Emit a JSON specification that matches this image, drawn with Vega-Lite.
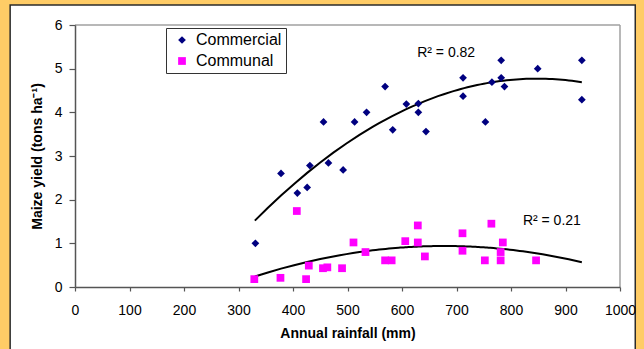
{
  "$schema": "https://vega.github.io/schema/vega-lite/v6.json",
  "width": 545,
  "height": 262,
  "autosize": {"type": "none"},
  "padding": {"left": 75, "top": 25, "right": 24, "bottom": 62},
  "background": "#FFCC66",
  "config": {
    "font": "Liberation Sans",
    "view": {"stroke": null},
    "axis": {
      "grid": false,
      "domainColor": "#555555",
      "domainWidth": 1.5,
      "tickColor": "#555555",
      "tickWidth": 1.2,
      "labelColor": "#000000",
      "labelFont": "Liberation Sans",
      "labelFontSize": 14,
      "titleFont": "Liberation Sans",
      "titleFontSize": 14,
      "titleFontWeight": "bold",
      "titleColor": "#000000"
    }
  },
  "datasets": {
    "points": [
      {"series": "Commercial", "rain": 331, "yield": 1.0},
      {"series": "Commercial", "rain": 378, "yield": 2.6},
      {"series": "Commercial", "rain": 408, "yield": 2.15},
      {"series": "Commercial", "rain": 426, "yield": 2.28},
      {"series": "Commercial", "rain": 431, "yield": 2.78},
      {"series": "Commercial", "rain": 456, "yield": 3.78},
      {"series": "Commercial", "rain": 465, "yield": 2.84},
      {"series": "Commercial", "rain": 492, "yield": 2.68},
      {"series": "Commercial", "rain": 513, "yield": 3.78},
      {"series": "Commercial", "rain": 535, "yield": 4.0},
      {"series": "Commercial", "rain": 569, "yield": 4.59},
      {"series": "Commercial", "rain": 583, "yield": 3.6},
      {"series": "Commercial", "rain": 608, "yield": 4.19},
      {"series": "Commercial", "rain": 630, "yield": 4.2},
      {"series": "Commercial", "rain": 630, "yield": 4.0},
      {"series": "Commercial", "rain": 644, "yield": 3.56},
      {"series": "Commercial", "rain": 712, "yield": 4.79},
      {"series": "Commercial", "rain": 712, "yield": 4.37},
      {"series": "Commercial", "rain": 753, "yield": 3.78},
      {"series": "Commercial", "rain": 765, "yield": 4.69},
      {"series": "Commercial", "rain": 782, "yield": 5.19},
      {"series": "Commercial", "rain": 782, "yield": 4.79},
      {"series": "Commercial", "rain": 788, "yield": 4.59},
      {"series": "Commercial", "rain": 849, "yield": 5.0},
      {"series": "Commercial", "rain": 930, "yield": 5.19},
      {"series": "Commercial", "rain": 930, "yield": 4.29},
      {"series": "Communal", "rain": 329, "yield": 0.18},
      {"series": "Communal", "rain": 377, "yield": 0.21},
      {"series": "Communal", "rain": 407, "yield": 1.74},
      {"series": "Communal", "rain": 424, "yield": 0.18},
      {"series": "Communal", "rain": 429, "yield": 0.49},
      {"series": "Communal", "rain": 455, "yield": 0.43},
      {"series": "Communal", "rain": 463, "yield": 0.45},
      {"series": "Communal", "rain": 490, "yield": 0.43},
      {"series": "Communal", "rain": 511, "yield": 1.02},
      {"series": "Communal", "rain": 533, "yield": 0.8},
      {"series": "Communal", "rain": 569, "yield": 0.61},
      {"series": "Communal", "rain": 581, "yield": 0.61},
      {"series": "Communal", "rain": 606, "yield": 1.05},
      {"series": "Communal", "rain": 629, "yield": 1.41},
      {"series": "Communal", "rain": 629, "yield": 1.02},
      {"series": "Communal", "rain": 642, "yield": 0.7},
      {"series": "Communal", "rain": 711, "yield": 1.23},
      {"series": "Communal", "rain": 711, "yield": 0.83},
      {"series": "Communal", "rain": 752, "yield": 0.61},
      {"series": "Communal", "rain": 764, "yield": 1.45},
      {"series": "Communal", "rain": 781, "yield": 0.8},
      {"series": "Communal", "rain": 781, "yield": 0.61},
      {"series": "Communal", "rain": 785, "yield": 1.02},
      {"series": "Communal", "rain": 846, "yield": 0.61}
    ],
    "labels": [
      {"label": "R² = 0.82", "rain": 681, "yield": 5.36},
      {"label": "R² = 0.21", "rain": 875, "yield": 1.51}
    ]
  },
  "layer": [
    {
      "data": {"values": [{}]},
      "mark": {"type": "rect", "fill": "#FFFFFF", "stroke": "#2B2B2B", "strokeWidth": 1.5},
      "encoding": {
        "x": {"datum": -119, "type": "quantitative", "scale": {"domain": [0, 1000], "nice": false}},
        "x2": {"datum": 1028},
        "y": {"datum": 6.46, "type": "quantitative", "scale": {"domain": [0, 6], "nice": false}},
        "y2": {"datum": -2}
      }
    },
    {
      "data": {"values": [{}]},
      "mark": {"type": "rule", "color": "#A0A0A0", "strokeWidth": 1.5},
      "encoding": {
        "x": {"datum": 0, "type": "quantitative"},
        "x2": {"datum": 1000},
        "y": {"datum": 6, "type": "quantitative"}
      }
    },
    {
      "data": {"values": [{}]},
      "mark": {"type": "rule", "color": "#A0A0A0", "strokeWidth": 1.5},
      "encoding": {
        "x": {"datum": 1000, "type": "quantitative"},
        "y": {"datum": 0, "type": "quantitative"},
        "y2": {"datum": 6}
      }
    },
    {
      "data": {"name": "points"},
      "transform": [
        {"regression": "yield", "on": "rain", "groupby": ["series"], "method": "poly", "order": 2, "extent": [330, 930]}
      ],
      "mark": {"type": "line", "color": "#000000", "strokeWidth": 2},
      "encoding": {
        "x": {"field": "rain", "type": "quantitative"},
        "y": {"field": "yield", "type": "quantitative"},
        "detail": {"field": "series"}
      }
    },
    {
      "data": {"name": "points"},
      "mark": {"type": "point", "filled": true, "size": 60, "opacity": 1},
      "encoding": {
        "x": {
          "field": "rain",
          "type": "quantitative",
          "scale": {"domain": [0, 1000], "nice": false},
          "axis": {
            "zindex": 2,
            "title": "Annual rainfall (mm)",
            "values": [0, 100, 200, 300, 400, 500, 600, 700, 800, 900, 1000],
            "format": "d",
            "tickSize": 4,
            "labelPadding": 12,
            "titlePadding": 9,
            "labelFlush": false
          }
        },
        "y": {
          "field": "yield",
          "type": "quantitative",
          "scale": {"domain": [0, 6], "nice": false},
          "axis": {
            "zindex": 2,
            "title": "Maize yield (tons ha⁻¹)",
            "values": [0, 1, 2, 3, 4, 5, 6],
            "format": "d",
            "tickSize": 6,
            "labelPadding": 7,
            "titlePadding": 10
          }
        },
        "color": {
          "field": "series",
          "type": "nominal",
          "scale": {"domain": ["Commercial", "Communal"], "range": ["#000080", "#FF00FF"]},
          "legend": {
            "title": null,
            "orient": "none",
            "legendX": 91,
            "legendY": 3,
            "fillColor": "#FFFFFF",
            "strokeColor": "#333333",
            "padding": 4,
            "labelFontSize": 16,
            "labelFont": "Liberation Sans",
            "labelColor": "#000000",
            "symbolSize": 60,
            "symbolOffset": 4,
            "labelOffset": 6,
            "rowPadding": 5,
            "symbolStrokeWidth": 0
          }
        },
        "shape": {
          "field": "series",
          "type": "nominal",
          "scale": {"domain": ["Commercial", "Communal"], "range": ["diamond", "square"]},
          "legend": null
        }
      }
    },
    {
      "data": {"name": "labels"},
      "mark": {"type": "text", "fontSize": 14, "font": "Liberation Sans", "color": "#000000"},
      "encoding": {
        "x": {"field": "rain", "type": "quantitative"},
        "y": {"field": "yield", "type": "quantitative"},
        "text": {"field": "label"}
      }
    }
  ]
}
